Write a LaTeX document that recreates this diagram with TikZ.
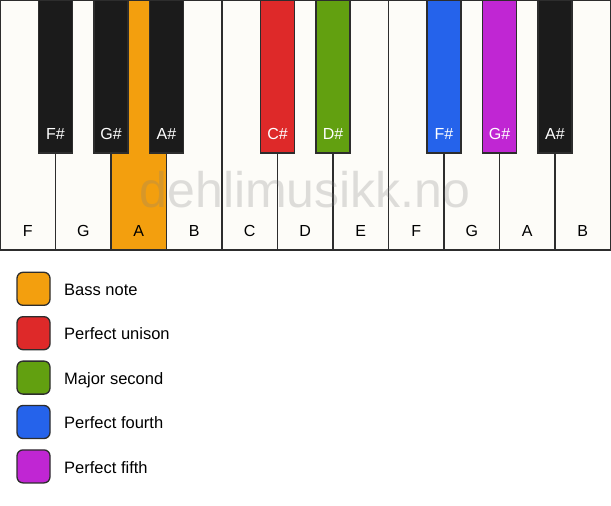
\documentclass[tikz,border=0pt]{standalone}
\usepackage{fontspec}
\setmainfont{Liberation Sans}
\definecolor{keywhite}{RGB}{253,252,248}
\definecolor{keyblack}{RGB}{27,27,27}
\definecolor{keyline}{RGB}{45,45,45}
\definecolor{bassorange}{RGB}{243,159,14}
\definecolor{unisonred}{RGB}{222,41,41}
\definecolor{secondgreen}{RGB}{98,160,16}
\definecolor{fourthblue}{RGB}{37,99,235}
\definecolor{fifthpurple}{RGB}{192,38,211}
\begin{document}
\begin{tikzpicture}
[x=1pt,y=-1pt,
  whitekey/.style={shape=rectangle,draw=keyline,line width=1.3pt,fill=keywhite,
    minimum width=55.5pt,minimum height=250pt,inner sep=0pt},%
  blackkey/.style={shape=rectangle,draw=keyline,line width=1.3pt,fill=keyblack,
    minimum width=34pt,minimum height=153pt,inner sep=0pt},%
  keylabel/.style={anchor=base,inner sep=0pt,font=\fontsize{16}{19}\selectfont},%
  legendbox/.style={shape=rectangle,rounded corners=6pt,draw=keyline,line width=1.3pt,
    minimum width=33pt,minimum height=33pt,inner sep=0pt},%
  legendtext/.style={anchor=base west,inner sep=0pt,font=\fontsize{16.5}{19}\selectfont}]
\useasboundingbox[fill=white] (0,0) rectangle (611,506);
%% white keys
\foreach \keyname/\i/\note/\col in {wf1/0/F/keywhite, wg1/1/G/keywhite,
  wa1/2/A/bassorange, wb1/3/B/keywhite, wc2/4/C/keywhite, wd2/5/D/keywhite,
  we2/6/E/keywhite, wf2/7/F/keywhite, wg2/8/G/keywhite, wa2/9/A/keywhite,
  wb2/10/B/keywhite} {
  \node (\keyname) at ({\i*55.5+27.75},125) [whitekey,fill=\col] {};
  \node (\keyname-label) at (\keyname.center |- 0,236.8) [keylabel] {\note};
}
%% watermark
\node (mark) at (305,207) [anchor=base,inner sep=0pt,text=black!50,opacity=0.25,
  font=\fontsize{50}{54}\selectfont] {dehlimusikk.no};
%% black keys
\foreach \keyname/\i/\note/\col in {bf1/1/F\#/keyblack, bg1/2/G\#/keyblack,
  ba1/3/A\#/keyblack, bc2/5/C\#/unisonred, bd2/6/D\#/secondgreen,
  bf2/8/F\#/fourthblue, bg2/9/G\#/fifthpurple, ba2/10/A\#/keyblack} {
  \node (\keyname) at ({\i*55.5},76.5) [blackkey,fill=\col] {};
  \node (\keyname-label) at (\keyname.center |- 0,139) [keylabel,text=white] {\note};
}
%% legend
\foreach \entry/\k/\col/\txt in {bass/0/bassorange/Bass note,
  unison/1/unisonred/Perfect unison, second/2/secondgreen/Major second,
  fourth/3/fourthblue/Perfect fourth, fifth/4/fifthpurple/Perfect fifth} {
  \node (\entry) at (33.5,{288.8+\k*44.4}) [legendbox,fill=\col] {};
  \node (\entry-text) at (64,{295.5+\k*44.4}) [legendtext] {\txt};
}
\end{tikzpicture}
\end{document}
